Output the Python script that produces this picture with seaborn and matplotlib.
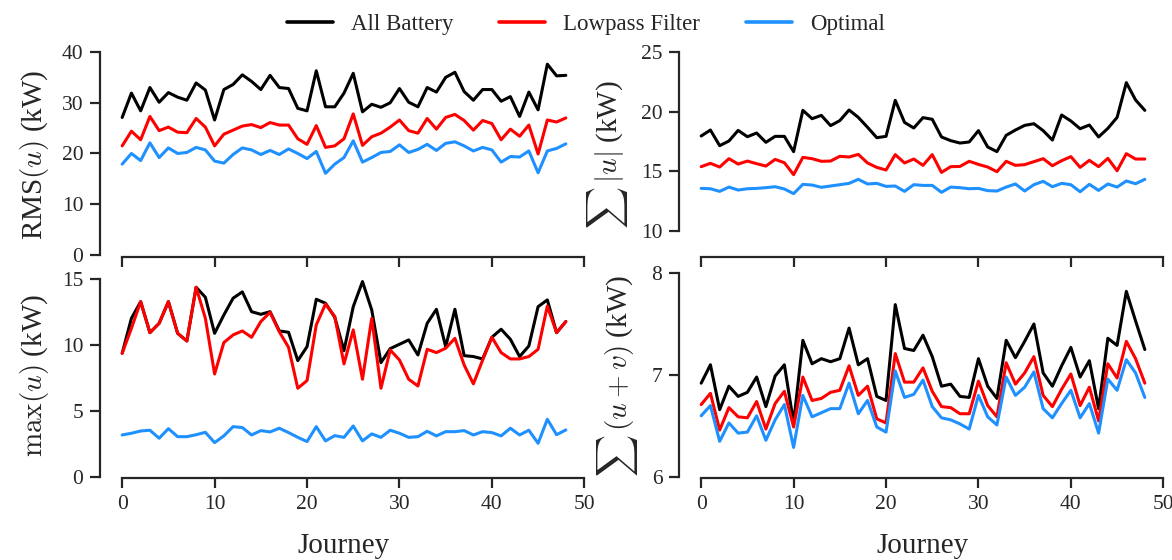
import numpy as np
import pandas as pd
import matplotlib
matplotlib.use("Agg")
import matplotlib.pyplot as plt
import seaborn as sns

journeys = list(range(49))
series_names = ["All Battery", "Lowpass Filter", "Optimal"]
series_colors = ["#000000", "#ff0000", "#1e90ff"]

rms_all = [27.1, 31.9, 28.4, 33.0, 30.1, 32.0, 31.1, 30.5, 33.9, 32.5,
           26.6, 32.6, 33.6, 35.5, 34.2, 32.6, 35.4, 33.0, 32.8, 28.9,
           28.4, 36.3, 29.2, 29.2, 31.9, 35.8, 28.2, 29.7, 29.1, 30.0,
           32.8, 30.1, 29.2, 33.0, 32.1, 35.0, 36.0, 32.2, 30.5, 32.6,
           32.6, 30.3, 31.2, 27.3, 32.1, 28.6, 37.6, 35.3, 35.4]
rms_lp = [21.5, 24.4, 22.7, 27.3, 24.5, 25.2, 24.2, 24.1, 26.9, 25.2,
          21.5, 23.8, 24.6, 25.4, 25.7, 25.1, 26.1, 25.6, 25.6, 22.9,
          21.8, 25.5, 21.2, 21.5, 22.9, 27.8, 21.6, 23.3, 24.0, 25.2,
          26.6, 24.5, 24.0, 26.9, 24.8, 27.1, 27.7, 26.5, 24.6, 26.5,
          25.9, 22.7, 24.8, 23.4, 25.6, 19.9, 26.6, 26.2, 27.0]
rms_opt = [17.9, 20.0, 18.6, 22.1, 19.2, 21.1, 20.0, 20.2, 21.2, 20.7,
           18.5, 18.1, 19.8, 21.1, 20.7, 19.8, 20.6, 19.8, 20.9, 20.0,
           19.0, 20.4, 16.1, 17.9, 19.2, 22.5, 18.3, 19.2, 20.2, 20.4,
           21.7, 20.2, 20.8, 21.8, 20.6, 22.0, 22.3, 21.5, 20.5, 21.2,
           20.7, 18.3, 19.4, 19.3, 20.5, 16.2, 20.5, 21.0, 21.9]

abs_all = [17.96, 18.46, 17.15, 17.54, 18.43, 17.90, 18.21, 17.43, 17.93, 17.93,
           16.65, 20.11, 19.41, 19.69, 18.83, 19.25, 20.14, 19.52, 18.69, 17.82,
           17.93, 20.95, 19.10, 18.63, 19.50, 19.36, 17.88, 17.57, 17.37, 17.46,
           18.41, 17.04, 16.65, 18.02, 18.46, 18.85, 18.99, 18.41, 17.62, 19.72,
           19.22, 18.57, 18.88, 17.88, 18.60, 19.52, 22.43, 20.98, 20.11]
abs_lp = [15.39, 15.67, 15.36, 16.06, 15.61, 15.86, 15.64, 15.44, 16.00, 15.72,
          14.72, 16.17, 16.06, 15.84, 15.86, 16.26, 16.20, 16.42, 15.70, 15.33,
          15.11, 16.40, 15.70, 16.03, 15.50, 16.40, 14.91, 15.39, 15.41, 15.84,
          15.58, 15.36, 14.97, 15.84, 15.50, 15.56, 15.81, 16.06, 15.47, 15.89,
          16.23, 15.33, 15.92, 15.39, 16.09, 15.05, 16.48, 16.03, 16.03]
abs_opt = [13.57, 13.54, 13.32, 13.68, 13.43, 13.54, 13.57, 13.63, 13.71, 13.52,
           13.13, 13.91, 13.85, 13.66, 13.77, 13.88, 13.99, 14.33, 13.94, 13.99,
           13.74, 13.77, 13.32, 13.88, 13.82, 13.82, 13.24, 13.68, 13.63, 13.54,
           13.57, 13.38, 13.35, 13.68, 13.94, 13.35, 13.88, 14.16, 13.71, 13.99,
           13.88, 13.29, 13.91, 13.40, 13.94, 13.68, 14.19, 13.96, 14.33]

max_all = [9.37, 12.02, 13.28, 10.93, 11.64, 13.28, 10.88, 10.30, 14.37, 13.61,
           10.88, 12.27, 13.54, 14.02, 12.52, 12.32, 12.52, 11.06, 10.96, 8.81,
           9.87, 13.46, 13.16, 12.10, 9.57, 12.90, 14.80, 12.65, 8.66, 9.72,
           10.05, 10.38, 9.24, 11.64, 12.70, 9.87, 12.70, 9.19, 9.12, 8.94,
           10.58, 11.19, 10.43, 9.12, 9.92, 12.90, 13.41, 10.93, 11.77]
max_lp = [9.37, 11.26, 13.28, 10.93, 11.64, 13.28, 10.88, 10.30, 14.37, 12.02,
          7.80, 10.18, 10.76, 11.06, 10.58, 11.77, 12.47, 11.00, 9.82, 6.72,
          7.30, 11.52, 13.10, 12.15, 8.56, 11.14, 7.40, 12.02, 6.72, 9.62,
          8.86, 7.40, 6.89, 9.67, 9.42, 9.75, 10.50, 8.48, 7.05, 8.86,
          10.58, 9.42, 8.94, 8.94, 9.12, 9.67, 12.95, 10.93, 11.77]
max_opt = [3.18, 3.31, 3.48, 3.54, 2.93, 3.66, 3.05, 3.05, 3.20, 3.38,
           2.60, 3.11, 3.81, 3.74, 3.18, 3.51, 3.41, 3.69, 3.36, 3.00,
           2.68, 3.81, 2.73, 3.13, 3.00, 3.86, 2.73, 3.26, 3.00, 3.54,
           3.31, 3.00, 3.05, 3.46, 3.11, 3.43, 3.43, 3.51, 3.18, 3.43,
           3.36, 3.11, 3.69, 3.18, 3.54, 2.55, 4.37, 3.20, 3.56]

sum_all = [6.92, 7.10, 6.66, 6.89, 6.79, 6.83, 6.98, 6.69, 6.99, 7.10,
           6.53, 7.34, 7.11, 7.16, 7.13, 7.16, 7.46, 7.10, 7.16, 6.79,
           6.75, 7.69, 7.26, 7.24, 7.39, 7.18, 6.89, 6.91, 6.79, 6.78,
           7.16, 6.89, 6.77, 7.34, 7.17, 7.33, 7.50, 7.02, 6.89, 7.09,
           7.27, 6.98, 7.14, 6.67, 7.36, 7.29, 7.82, 7.53, 7.25]
sum_lp = [6.71, 6.82, 6.46, 6.68, 6.59, 6.58, 6.74, 6.47, 6.72, 6.84,
          6.49, 6.98, 6.75, 6.77, 6.83, 6.85, 7.09, 6.80, 6.89, 6.57,
          6.53, 7.21, 6.93, 6.93, 7.07, 6.84, 6.69, 6.68, 6.62, 6.62,
          6.94, 6.70, 6.59, 7.12, 6.91, 7.02, 7.18, 6.80, 6.69, 6.86,
          7.01, 6.70, 6.88, 6.55, 7.11, 6.97, 7.33, 7.16, 6.92]
sum_opt = [6.60, 6.70, 6.35, 6.53, 6.43, 6.44, 6.60, 6.36, 6.56, 6.71,
           6.29, 6.80, 6.59, 6.63, 6.67, 6.67, 6.92, 6.62, 6.75, 6.49,
           6.44, 7.04, 6.78, 6.81, 6.95, 6.69, 6.58, 6.56, 6.52, 6.47,
           6.80, 6.59, 6.51, 6.98, 6.80, 6.88, 7.03, 6.67, 6.58, 6.72,
           6.85, 6.58, 6.72, 6.43, 6.96, 6.85, 7.15, 7.02, 6.78]

x_ticks = [0, 10, 20, 30, 40, 50]
x_label = "Journey"

panels = [
    dict(data=[rms_all, rms_lp, rms_opt], ylabel=r"RMS$(u)$ (kW)",
         yticks=[0, 10, 20, 30, 40], ylim=(-0.4, 40)),
    dict(data=[abs_all, abs_lp, abs_opt], ylabel=r"$\sum\,|u|$ (kW)",
         yticks=[10, 15, 20, 25], ylim=(7.82, 25)),
    dict(data=[max_all, max_lp, max_opt], ylabel=r"$\max(u)$ (kW)",
         yticks=[0, 5, 10, 15], ylim=(-0.08, 15.45)),
    dict(data=[sum_all, sum_lp, sum_opt], ylabel=r"$\sum\,(u+v)$ (kW)",
         yticks=[6, 7, 8], ylim=(5.99, 8.0)),
]

sns.set_style("ticks")
plt.rcParams["font.family"] = ["Liberation Serif", "DejaVu Serif"]
plt.rcParams["mathtext.fontset"] = "cm"
plt.rcParams["axes.edgecolor"] = "#262626"
plt.rcParams["axes.linewidth"] = 1.6
plt.rcParams["xtick.major.width"] = 1.6
plt.rcParams["ytick.major.width"] = 1.6
plt.rcParams["xtick.major.size"] = 7
plt.rcParams["ytick.major.size"] = 7
plt.rcParams["xtick.color"] = "#262626"
plt.rcParams["ytick.color"] = "#262626"

fig = plt.figure(figsize=(11.72, 5.6), dpi=100)
W, H = 1172.0, 560.0
positions = [
    (100, 52, 488, 205),
    (679, 52, 488, 205),
    (100, 273, 488, 205),
    (679, 273, 488, 205),
]

palette = dict(zip(series_names, series_colors))
axes = []
for k, (p, pos) in enumerate(zip(panels, positions)):
    x0, y0, w, h = pos
    ax = fig.add_axes([x0 / W, 1 - (y0 + h) / H, w / W, h / H])
    frames = []
    for name, vals in zip(series_names, p["data"]):
        frames.append(pd.DataFrame({"Journey": journeys, "value": vals, "series": name}))
    df = pd.concat(frames, ignore_index=True)
    sns.lineplot(data=df, x="Journey", y="value", hue="series",
                 hue_order=series_names, palette=palette, linewidth=2.2,
                 ax=ax, legend=(k == 0))
    ax.set_xlim(-2.4, 50.4)
    ax.set_xticks(x_ticks)
    ax.set_ylim(*p["ylim"])
    ax.set_yticks(p["yticks"])
    ax.set_ylabel(p["ylabel"], fontsize=21, labelpad=8)
    ax.tick_params(labelsize=15.5, pad=5)
    if k < 2:
        ax.tick_params(labelbottom=False)
        ax.set_xlabel("")
    else:
        ax.set_xlabel(x_label, fontsize=21, labelpad=14)
    sns.despine(ax=ax, trim=True)
    axes.append(ax)

handles, labels = axes[0].get_legend_handles_labels()
axes[0].get_legend().remove()
for hnd in handles:
    hnd.set_linewidth(2.6)
fig.legend(handles, labels, loc="upper center", bbox_to_anchor=(0.5, 1.012),
           ncol=3, frameon=False, fontsize=16.5, columnspacing=2.0,
           handlelength=2.0, handletextpad=0.8)

fig.savefig("out.png", dpi=100)
